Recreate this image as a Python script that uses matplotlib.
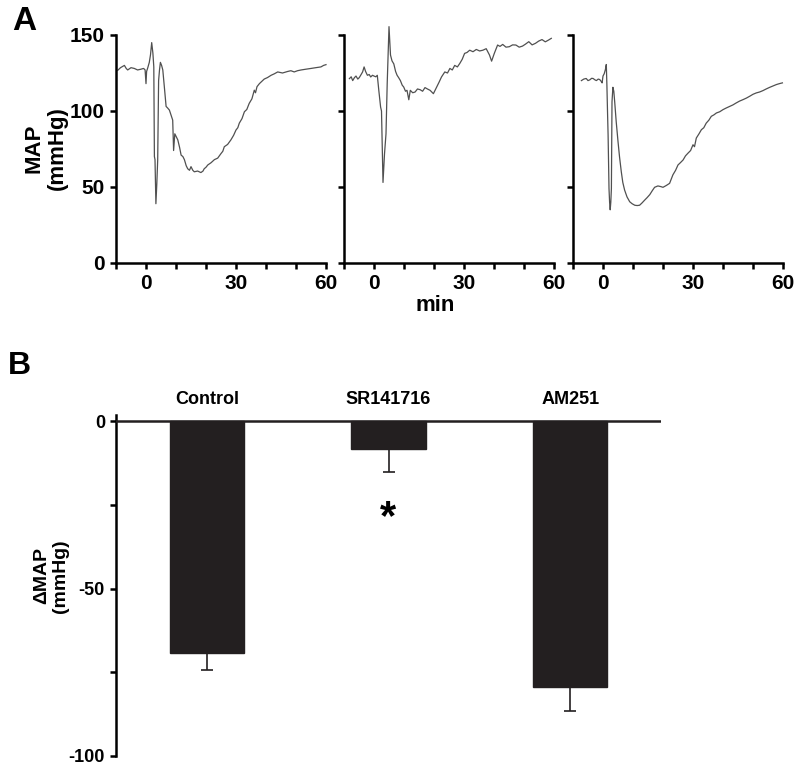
import matplotlib
matplotlib.use("Agg")
import matplotlib.pyplot as plt
from matplotlib.ticker import FixedLocator

plt.rcParams['font.family'] = ['Liberation Sans', 'DejaVu Sans']
plt.rcParams['font.weight'] = 'bold'
plt.rcParams['axes.unicode_minus'] = False

# ---------------- Data: panel A traces (min, mmHg) ----------------
t1 = [-9.4, -8.5, -7.2, -6.6, -6.1, -5.0, -3.9, -2.8, -1.7, -0.8, -0.3, 0.0, 0.2, 0.6, 1.1, 1.5, 1.9,
      2.3, 2.6, 2.8, 3.0, 3.3, 3.6, 3.9, 4.2, 4.5, 4.8, 5.2, 5.6, 6.2, 6.7, 7.2, 7.8, 8.4, 8.9, 9.2,
      9.6, 10.1, 10.6, 11.2, 11.7, 12.3, 12.8, 13.4, 13.9, 14.5, 15.0, 15.6, 16.1, 17.2, 18.3, 19.0,
      19.4, 20.0, 20.6, 21.7, 22.8, 23.9, 25.0, 25.6, 26.1, 27.2, 28.3, 29.2, 30.0, 30.6, 31.1, 32.0,
      32.8, 33.6, 34.4, 35.3, 36.1, 36.5, 37.0, 37.8, 38.6, 39.4, 40.5, 41.7, 42.8, 43.9, 45.5, 47.2,
      48.3, 49.4, 50.5, 51.7, 53.3, 55.0, 56.6, 58.3, 59.2, 60.0]
v1 = [126.8, 128.5, 130.0, 128.0, 127.0, 128.5, 128.0, 127.0, 127.5, 128.0, 127.0, 118.0, 126.0, 128.5, 132.0, 137.0, 145.0,
      138.0, 129.0, 70.0, 68.0, 39.0, 52.0, 68.0, 120.0, 127.0, 132.0, 130.0, 127.0, 114.0, 103.0, 102.0, 100.6, 97.0, 94.0, 74.0,
      85.0, 83.0, 81.0, 76.0, 71.0, 70.0, 68.0, 64.0, 62.0, 61.0, 63.4, 61.0, 60.0, 60.5, 59.5, 60.5,
      62.0, 63.0, 64.5, 66.0, 68.0, 69.0, 72.0, 73.5, 76.5, 78.0, 81.0, 84.0, 87.5, 89.0, 92.0, 95.0,
      99.5, 101.0, 105.0, 108.0, 113.7, 112.0, 116.0, 118.0, 119.5, 121.0, 122.0, 123.5, 124.5, 125.7, 125.0, 126.0,
      126.5, 125.7, 126.5, 127.0, 127.5, 128.0, 128.5, 129.0, 130.0, 130.5]

t2 = [-8.2, -7.6, -7.1, -6.5, -6.0, -5.4, -4.9, -4.3, -3.8, -3.3, -2.8, -2.2, -1.6, -1.1, -0.5, 0.0, 0.6,
      1.1, 1.6, 2.2, 2.5, 3.0, 3.5, 4.0, 4.4, 5.0, 5.5, 6.0, 6.6, 7.2, 7.7, 8.2, 8.8, 9.4, 9.9, 10.5,
      11.0, 11.6, 12.1, 12.9, 13.7, 14.5, 15.4, 16.2, 17.0, 17.8, 18.7, 19.8, 20.9, 21.7, 22.5, 23.6,
      24.5, 25.3, 26.1, 26.9, 27.8, 28.6, 29.4, 30.2, 31.0, 31.9, 33.0, 34.1, 35.2, 36.3, 37.4, 38.5,
      39.2, 40.1, 41.2, 42.0, 42.9, 44.0, 45.1, 46.2, 47.3, 48.4, 49.5, 50.5, 51.6, 52.7, 53.8, 54.9,
      56.0, 57.1, 58.2, 59.1]
v2 = [121.3, 122.5, 120.0, 122.0, 123.0, 121.0, 122.0, 124.0, 125.7, 129.0, 126.0, 123.5, 124.0, 122.4, 123.5, 123.0, 122.5,
      123.5, 113.6, 102.6, 100.0, 53.0, 71.7, 85.0, 118.0, 155.5, 136.8, 133.0, 131.0, 126.0, 123.5, 122.0, 120.0, 117.0, 115.8, 113.0,
      113.6, 107.4, 113.6, 112.0, 112.5, 114.5, 114.0, 113.0, 115.4, 114.5, 113.6, 111.4, 115.8, 119.0, 122.4, 125.7,
      125.0, 128.0, 127.0, 130.0, 129.0, 131.3, 134.0, 137.9, 138.5, 140.0, 139.0, 140.5, 139.5, 140.0, 141.0, 136.8,
      132.8, 137.9, 143.4, 142.5, 143.8, 142.0, 142.3, 143.5, 143.4, 142.0, 142.7, 144.0, 145.6, 143.5, 144.5, 146.0,
      147.0, 145.5, 146.7, 147.8]

t3 = [-7.2, -6.4, -5.6, -5.0, -4.4, -3.8, -3.3, -2.7, -2.2, -1.6, -1.1, -0.6, -0.3, 0.0, 0.4, 0.8, 1.1,
      1.3, 1.5, 1.7, 2.0, 2.2, 2.4, 2.6, 2.8, 3.0, 3.3, 3.6, 3.9, 4.4, 5.0, 5.5, 6.1, 6.6, 7.2, 8.0,
      8.9, 9.7, 10.6, 11.4, 12.2, 13.0, 13.9, 14.7, 15.6, 16.4, 17.2, 18.3, 19.2, 20.0, 21.1, 22.2,
      23.3, 24.2, 25.0, 25.8, 26.7, 27.5, 28.3, 29.2, 30.0, 30.5, 31.1, 32.0, 32.8, 33.6, 34.4, 35.3,
      36.1, 37.0, 37.8, 38.9, 40.0, 41.1, 42.2, 43.3, 44.4, 45.5, 46.7, 47.8, 48.9, 50.0, 51.1, 52.2,
      53.3, 54.4, 55.6, 56.7, 57.8, 58.8, 59.8]
v3 = [120.0, 121.0, 121.4, 120.0, 120.5, 121.5, 121.4, 120.5, 120.0, 121.0, 120.7, 119.5, 118.5, 123.0, 124.5, 127.3, 130.6,
      117.0, 100.0, 84.0, 49.0, 40.0, 35.0, 40.0, 49.0, 106.0, 115.6, 113.0, 106.0, 93.0, 80.0, 70.0, 60.0, 53.0, 48.0, 43.5,
      40.3, 39.0, 38.0, 37.8, 38.0, 39.5, 41.4, 43.0, 45.0, 47.5, 49.8, 50.7, 50.3, 49.8, 51.0, 52.4,
      58.0, 61.0, 64.5, 66.0, 67.8, 70.5, 72.2, 74.0, 77.8, 76.5, 82.2, 85.0, 87.7, 89.0, 92.0, 94.0,
      96.5, 97.5, 98.7, 99.5, 100.9, 102.0, 103.0, 104.0, 105.3, 106.5, 107.5, 108.5, 109.7, 111.0, 111.9, 112.5,
      113.4, 114.5, 115.6, 116.5, 117.4, 118.0, 118.5]

# ---------------- Data: panel B ----------------
groups = ['Control', 'SR141716', 'AM251']
delta_map = [-69.3, -8.4, -79.4]
sem = [5.0, 6.8, 7.2]

# ---------------- Figure ----------------
fig = plt.figure(figsize=(8, 7.71), dpi=100)
W, H = 800.0, 771.0

def rect(x0, x1, ytop, ybot):
    return [x0 / W, 1 - ybot / H, (x1 - x0) / W, (ybot - ytop) / H]

trace_color = '#505050'
axes_a = [fig.add_axes(rect(116, 326, 35, 263)),
          fig.add_axes(rect(344, 554, 35, 263)),
          fig.add_axes(rect(573, 783, 35, 263))]
traces = [(t1, v1), (t2, v2), (t3, v3)]

for i, (ax, (t, v)) in enumerate(zip(axes_a, traces)):
    ax.plot(t, v, color=trace_color, lw=0.9, clip_on=False)
    ax.set_xlim(-10, 60)
    ax.set_ylim(0, 150)
    for s in ['top', 'right']:
        ax.spines[s].set_visible(False)
    for s in ['left', 'bottom']:
        ax.spines[s].set_linewidth(1.8)
    ax.xaxis.set_major_locator(FixedLocator([0, 30, 60]))
    ax.xaxis.set_minor_locator(FixedLocator([-10, 10, 20, 40, 50]))
    ax.yaxis.set_major_locator(FixedLocator([0, 50, 100, 150]))
    ax.tick_params(axis='both', which='both', direction='out', length=4, width=1.8,
                   labelsize=15, pad=4)
    for lab in ax.get_xticklabels() + ax.get_yticklabels():
        lab.set_fontweight('bold')
    if i > 0:
        ax.set_yticklabels([])
    ax.patch.set_alpha(0)

fig.text(46 / W, 1 - 148 / H, 'MAP\n(mmHg)', rotation=90, ha='center', va='center',
         fontsize=16, fontweight='bold', linespacing=1.15)
fig.text(435 / W, 1 - 306 / H, 'min', ha='center', va='center', fontsize=16, fontweight='bold')
fig.text(24 / W, 1 - 22 / H, 'A', ha='center', va='center', fontsize=24, fontweight='bold')
fig.text(19 / W, 1 - 366 / H, 'B', ha='center', va='center', fontsize=23, fontweight='bold')

# Panel B
axb = fig.add_axes([116 / W, 1 - 756 / H, (661 - 116) / W, (756 - 415) / H])
x = list(range(len(groups)))
axb.bar(x, delta_map, width=0.41, color='#231f20', edgecolor='#231f20', zorder=2)
axb.errorbar(x, delta_map, yerr=[sem, [0] * len(sem)], fmt='none', ecolor='#231f20',
             elinewidth=1.2, capsize=4, capthick=1.2, zorder=1)
axb.axhline(0, color='#231f20', lw=1.8, zorder=3)
axb.set_xlim(-0.5, 2.5)
axb.set_ylim(-100, 1.8)
for s in ['top', 'right', 'bottom']:
    axb.spines[s].set_visible(False)
axb.spines['left'].set_linewidth(1.8)
axb.set_xticks([])
axb.yaxis.set_major_locator(FixedLocator([0, -50, -100]))
axb.yaxis.set_minor_locator(FixedLocator([-25, -75]))
axb.tick_params(axis='y', which='both', direction='out', length=4, width=1.8, labelsize=13, pad=4)
for lab in axb.get_yticklabels():
    lab.set_fontweight('bold')
for xi, g in zip(x, groups):
    axb.text(xi, 6.3, g, ha='center', va='center', fontsize=13, fontweight='bold')
axb.text(1, -29.0, '*', ha='center', va='center', fontsize=30, fontweight='bold')
fig.text(51 / W, 1 - 576 / H, '\u0394MAP\n(mmHg)', rotation=90, ha='center', va='center',
         fontsize=14, fontweight='bold', linespacing=1.15)

fig.savefig('out.png', dpi=100)
